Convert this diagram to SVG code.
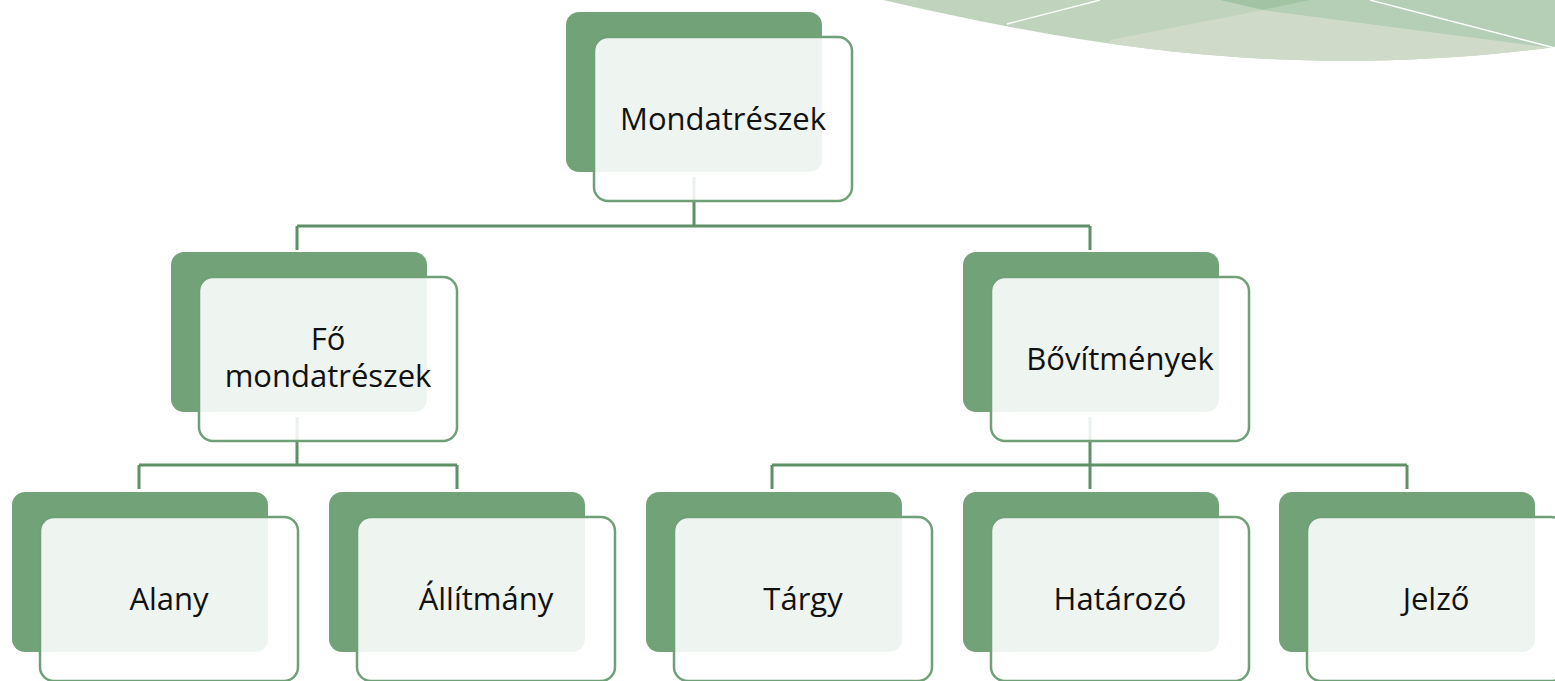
<svg xmlns="http://www.w3.org/2000/svg" width="1555" height="681" viewBox="0 0 1555 681">
<style>
.back{fill:#72a378}
.front{fill:#ffffff;fill-opacity:0.88;stroke:#6fa077;stroke-width:2.5}
.lbl{font-family:"Open Sans","Noto Sans",sans-serif;font-size:31px;fill:#111;text-anchor:middle}
.con{fill:none;stroke:#5f9066;stroke-width:3}
</style>
<defs>
<clipPath id="decoClip">
<path d="M883,0 C1100,50 1300,80 1555,47 L1555,0 Z"/>
</clipPath>
</defs>
<g id="decoration">
<g clip-path="url(#decoClip)">
<rect x="860" y="0" width="700" height="90" fill="#c0d4bd"/>
<polygon points="1110,40 1263,10 1560,49 1560,90 1100,90" fill="#cfdbc8"/>
<polygon points="1263,10 1310,0 1560,0 1560,49" fill="#b5cfb6"/>
<polygon points="1220,0 1310,0 1263,10" fill="#a3c4a4"/>
</g>
<line x1="1007" y1="24" x2="1100" y2="0" stroke="#ffffff" stroke-width="1.3"/>
<line x1="1370" y1="0" x2="1555" y2="48" stroke="#ffffff" stroke-width="1.3"/>
</g>
<g id="connectors">
<path class="con" d="M694,177 V226 M297,226 H1090 M297,226 V250 M1090,226 V250"/>
<path class="con" d="M297,417 V465 M139,465 H457 M139,465 V489 M457,465 V489"/>
<path class="con" d="M1090,417 V465 M772,465 H1407 M772,465 V489 M1090,465 V489 M1407,465 V489"/>
</g>
<g id="n-mondatreszek">
<rect class="back" x="566" y="12" width="256" height="160" rx="13"/>
<rect class="front" x="594" y="37" width="258" height="164" rx="14"/>
<text class="lbl" x="723" y="130">Mondatrészek</text>
</g>
<g id="n-fo">
<rect class="back" x="171" y="252" width="256" height="160" rx="13"/>
<rect class="front" x="199" y="277" width="258" height="164" rx="14"/>
<text class="lbl" x="328" y="350">Fő<tspan x="328" y="387">mondatrészek</tspan></text>
</g>
<g id="n-bovitmenyek">
<rect class="back" x="963" y="252" width="256" height="160" rx="13"/>
<rect class="front" x="991" y="277" width="258" height="164" rx="14"/>
<text class="lbl" x="1120" y="370">Bővítmények</text>
</g>
<g id="n-alany">
<rect class="back" x="12" y="492" width="256" height="160" rx="13"/>
<rect class="front" x="40" y="517" width="258" height="164" rx="14"/>
<text class="lbl" x="169" y="610">Alany</text>
</g>
<g id="n-allitmany">
<rect class="back" x="329" y="492" width="256" height="160" rx="13"/>
<rect class="front" x="357" y="517" width="258" height="164" rx="14"/>
<text class="lbl" x="486" y="610">Állítmány</text>
</g>
<g id="n-targy">
<rect class="back" x="646" y="492" width="256" height="160" rx="13"/>
<rect class="front" x="674" y="517" width="258" height="164" rx="14"/>
<text class="lbl" x="803" y="610">Tárgy</text>
</g>
<g id="n-hatarozo">
<rect class="back" x="963" y="492" width="256" height="160" rx="13"/>
<rect class="front" x="991" y="517" width="258" height="164" rx="14"/>
<text class="lbl" x="1120" y="610">Határozó</text>
</g>
<g id="n-jelzo">
<rect class="back" x="1279" y="492" width="256" height="160" rx="13"/>
<rect class="front" x="1307" y="517" width="258" height="164" rx="14"/>
<text class="lbl" x="1436" y="610">Jelző</text>
</g>
</svg>
